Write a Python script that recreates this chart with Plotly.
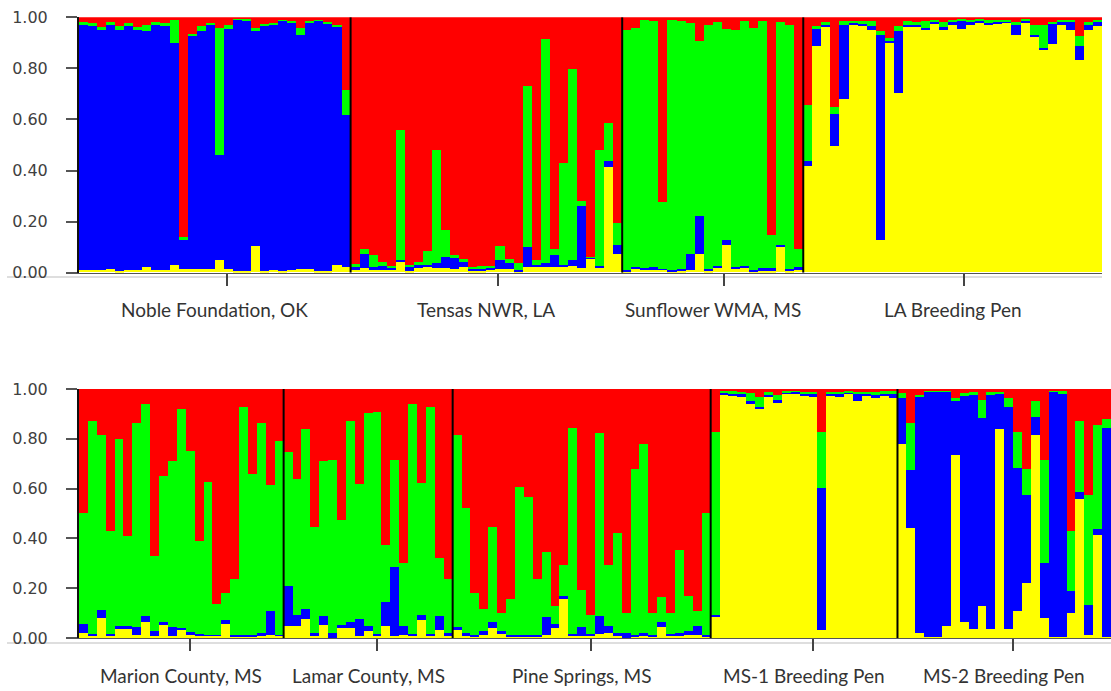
import plotly.graph_objects as go

# Ancestry proportions (Q) per individual, one list per cluster and population.
# Stack order from the bottom: yellow, blue, green, red.

# ---- upper panel ----
noble_yellow = [.01, .01, .01, .015, .005, .01, .01, .023, .01, .01, .03, .015, .013, .013, .013,
                .047, .013, .005, .005, .102, .005, .01, .005, .01, .012, .012, .005, .005, .03, .02]
noble_blue = [.96, .955, .94, .955, .945, .955, .94, .921, .96, .955, .87, .11, .911, .934, .957,
              .411, .94, .985, .98, .842, .96, .96, .98, .965, .919, .965, .98, .97, .93, .597]
noble_green = [.01, .01, .01, .01, .015, .01, .01, .026, .01, .012, .09, .012, .01, .017, .007,
               .5, .017, .002, .007, .013, .007, .005, .005, .008, .026, .007, .005, .007, .01, .098]
noble_red = [.02, .025, .04, .02, .035, .025, .04, .03, .02, .023, .01, .863, .066, .036, .023,
             .042, .03, .008, .008, .043, .028, .025, .01, .017, .043, .016, .01, .018, .03, .285]

tensas_yellow = [.01, .017, .01, .008, .01, .039, .004, .017, .023, .017, .017, .013, .023, .004, .004,
                 .01, .013, .013, .002, .023, .023, .023, .023, .02, .026, .017, .052, .02, .413, .073]
tensas_blue = [.012, .056, .01, .016, .01, .01, .02, .013, .007, .02, .043, .043, .016, .013, .013,
               .01, .037, .023, .008, .078, .005, .013, .046, .01, .021, .242, .008, .005, .022, .035]
tensas_green = [.01, .018, .05, .016, .005, .509, .006, .009, .052, .444, .107, .013, .013, .003, .007,
                .005, .052, .016, .026, .627, .02, .878, .023, .4, .751, .02, .002, .455, .15, .087]
tensas_red = [.968, .909, .93, .96, .975, .442, .97, .961, .918, .519, .833, .931, .948, .98, .976,
              .975, .898, .948, .964, .272, .952, .086, .908, .57, .202, .721, .938, .52, .415, .805]

sunflower_yellow = [.003, .013, .01, .01, .01, .005, .004, .01, .073, .004,
                    .017, .108, .013, .017, .005, .004, .004, .099, .004, .01]
sunflower_blue = [.007, .008, .008, .01, .005, .005, .01, .063, .149, .009,
                  .009, .017, .008, .009, .005, .013, .013, .009, .009, .013]
sunflower_green = [.94, .936, .972, .963, .259, .98, .969, .903, .685, .957,
                   .953, .828, .929, .957, .947, .966, .128, .871, .957, .068]
sunflower_red = [.05, .043, .01, .017, .726, .01, .017, .024, .093, .03,
                 .021, .047, .05, .017, .043, .017, .855, .021, .03, .909]

lapen_yellow = [.415, .888, .96, .496, .679, .97, .965, .95, .125, .898, .702, .96, .96, .948, .975, .952,
                .97, .953, .97, .98, .97, .975, .98, .931, .98, .924, .872, .895, .97, .948, .83, .95, .963]
lapen_blue = [.02, .065, .01, .125, .291, .005, .006, .013, .806, .01, .242, .01, .01, .01, .007, .007,
              .012, .035, .012, .005, .005, .005, .004, .039, .005, .007, .007, .081, .01, .035, .055, .02, .016]
lapen_green = [.222, .01, .01, .028, .013, .01, .012, .02, .013, .01, .02, .013, .01, .026, .005, .02,
               .005, .005, .005, .007, .013, .008, .006, .01, .007, .039, .091, .005, .01, .005, .039, .01, .01]
lapen_red = [.343, .037, .02, .351, .017, .015, .017, .017, .056, .082, .036, .017, .02, .016, .013, .021,
             .013, .007, .013, .008, .012, .012, .01, .02, .008, .03, .03, .019, .01, .012, .076, .02, .011]

# ---- lower panel ----
marion_yellow = [.02, .009, .08, .009, .036, .036, .013, .063, .009, .051, .009, .036,
                 .013, .009, .009, .009, .056, .007, .007, .007, .009, .013, .009]
marion_blue = [.037, .008, .033, .008, .013, .013, .031, .024, .021, .013, .035, .005,
               .013, .008, .005, .005, .015, .005, .005, .005, .011, .094, .005]
marion_green = [.444, .856, .703, .413, .752, .36, .821, .852, .3, .587, .665, .879,
                .725, .371, .614, .122, .109, .225, .917, .646, .845, .508, .779]
marion_red = [.499, .127, .184, .57, .199, .591, .135, .061, .67, .349, .291, .08,
              .249, .612, .372, .864, .82, .763, .071, .342, .135, .385, .207]

lamar_yellow = [.05, .047, .076, .009, .053, .002, .04, .04, .009, .027,
                .009, .05, .009, .013, .009, .071, .009, .031, .009]
lamar_blue = [.158, .047, .04, .011, .034, .018, .013, .023, .067, .022,
              .008, .093, .275, .036, .008, .021, .008, .056, .013]
lamar_green = [.537, .544, .722, .425, .622, .695, .419, .81, .542, .853,
               .892, .231, .431, .254, .922, .532, .912, .234, .215]
lamar_red = [.255, .362, .162, .555, .291, .285, .528, .127, .382, .098,
             .091, .626, .285, .697, .061, .376, .071, .679, .763]

pine_yellow = [.036, .009, .004, .013, .04, .017, .007, .004, .004, .007, .013, .04, .156, .009, .009,
               .007, .017, .02, .009, .002, .007, .009, .007, .044, .009, .009, .013, .013, .007]
pine_blue = [.007, .011, .01, .017, .023, .013, .005, .009, .009, .005, .073, .017, .014, .008, .035,
             .01, .07, .03, .011, .018, .007, .011, .005, .019, .008, .011, .017, .036, .007]
pine_green = [.773, .504, .166, .086, .382, .07, .146, .593, .553, .225, .258, .073, .124, .828, .15,
              .077, .735, .244, .401, .08, .664, .759, .088, .101, .083, .334, .14, .061, .487]
pine_red = [.184, .476, .82, .884, .555, .9, .842, .394, .434, .763, .656, .87, .706, .155, .806,
            .906, .178, .706, .579, .9, .322, .221, .9, .836, .9, .646, .83, .89, .499]

ms1_yellow = [.084, .976, .97, .967, .94, .918, .97, .945, .98, .98, .97,
              .967, .031, .97, .967, .98, .953, .97, .962, .975, .962]
ms1_blue = [.01, .01, .01, .016, .013, .011, .007, .011, .005, .006, .009,
            .013, .571, .009, .013, .005, .029, .009, .017, .008, .02]
ms1_green = [.735, .006, .01, .005, .032, .04, .01, .02, .009, .008, .009,
             .008, .227, .009, .008, .008, .007, .009, .008, .007, .008]
ms1_red = [.171, .008, .01, .012, .015, .031, .013, .024, .006, .006, .012,
           .012, .171, .012, .012, .007, .011, .012, .013, .01, .01]

ms2_yellow = [.779, .441, .02, .003, .003, .049, .735, .063, .036, .127, .036, .838,
              .036, .107, .221, .816, .08, .003, .003, .1, .557, .013, .414, .005]
ms2_blue = [.186, .234, .947, .985, .985, .94, .218, .909, .94, .755, .94, .144,
            .893, .575, .354, .071, .223, .985, .98, .087, .031, .12, .023, .84]
ms2_green = [.019, .19, .009, .007, .007, .006, .009, .013, .01, .074, .01, .007,
             .034, .147, .103, .063, .412, .005, .008, .241, .285, .441, .418, .033]
ms2_red = [.016, .135, .024, .005, .005, .005, .038, .015, .014, .044, .014, .011,
           .037, .171, .322, .05, .285, .007, .009, .572, .127, .426, .145, .122]

top_groups = [
    ("Noble Foundation, OK", noble_yellow, noble_blue, noble_green, noble_red),
    ("Tensas NWR, LA", tensas_yellow, tensas_blue, tensas_green, tensas_red),
    ("Sunflower WMA, MS", sunflower_yellow, sunflower_blue, sunflower_green, sunflower_red),
    ("LA Breeding Pen", lapen_yellow, lapen_blue, lapen_green, lapen_red),
]
bottom_groups = [
    ("Marion County, MS", marion_yellow, marion_blue, marion_green, marion_red),
    ("Lamar County, MS", lamar_yellow, lamar_blue, lamar_green, lamar_red),
    ("Pine Springs, MS", pine_yellow, pine_blue, pine_green, pine_red),
    ("MS-1 Breeding Pen", ms1_yellow, ms1_blue, ms1_green, ms1_red),
    ("MS-2 Breeding Pen", ms2_yellow, ms2_blue, ms2_green, ms2_red),
]

cluster_colors = ["#FFFF00", "#0000FF", "#00FF00", "#FF0000"]
y_ticks = [0, 0.2, 0.4, 0.6, 0.8, 1.0]

W, H = 1111, 691
PLOT_LEFT = 79
panels = [
    # groups, axis suffix, px right, px top, px bottom, tick shift (bars), baseline px
    dict(groups=top_groups, sfx="", right=1102, top=17.3, bottom=272.7, shift=1.3, base=277),
    dict(groups=bottom_groups, sfx="2", right=1111, top=389, bottom=638, shift=1.0, base=643),
]

fig = go.Figure()
shapes, annotations = [], []
axis_font = dict(family="DejaVu Sans", size=16, color="#404040")
label_font = dict(family="Lato", size=19, color="#333333")

for p in panels:
    yellow, blue, green, red = [], [], [], []
    names, centers, bounds = [], [], []
    start = 0
    for name, gy, gb, gg, gr in p["groups"]:
        yellow += gy
        blue += gb
        green += gg
        red += gr
        n = len(gy)
        names.append(name)
        centers.append(start + (n - 1) / 2)
        start += n
        bounds.append(start - 0.5)
    n_total = start
    xs = list(range(n_total))
    xa, ya = "x" + p["sfx"], "y" + p["sfx"]
    for vals, col in zip([yellow, blue, green, red], cluster_colors):
        fig.add_trace(go.Bar(x=xs, y=vals, marker=dict(color=col, line=dict(width=0)),
                             xaxis=xa, yaxis=ya, showlegend=False, hoverinfo="skip"))

    xdom = [PLOT_LEFT / W, p["right"] / W]
    ydom = [1 - p["bottom"] / H, 1 - p["top"] / H]
    fig.layout["xaxis" + p["sfx"]] = dict(
        domain=xdom, range=[-0.5, n_total - 0.5], anchor=ya, automargin=False,
        showgrid=False, zeroline=False, showline=True, linecolor="#555555", linewidth=1,
        tickmode="array", tickvals=[c + p["shift"] for c in centers], ticktext=[""] * len(centers),
        ticks="outside", ticklen=12, tickwidth=1.5, tickcolor="#444444", fixedrange=True,
    )
    fig.layout["yaxis" + p["sfx"]] = dict(
        domain=ydom, range=[0, 1], anchor=xa, automargin=False,
        showgrid=False, zeroline=False, showline=True, linecolor="#111111", linewidth=2,
        tickmode="array", tickvals=y_ticks, tickformat=".2f",
        ticks="outside", ticklen=11, tickwidth=1.5, tickcolor="#555555",
        tickfont=axis_font, ticklabelstandoff=15, fixedrange=True,
    )

    # population separators
    for b in bounds[:-1]:
        shapes.append(dict(type="line", xref=xa, yref=ya, x0=b, x1=b, y0=0, y1=1,
                           line=dict(color="#000000", width=2)))
    # light baseline under the panel
    yb = 1 - p["base"] / H
    shapes.append(dict(type="line", xref="paper", yref="paper", x0=7 / W, x1=p["right"] / W,
                       y0=yb, y1=yb, line=dict(color="#BDBDBD", width=1.2), layer="below"))
    # population names
    ylab = 1 - (p["bottom"] + 37) / H
    for name, c in zip(names, centers):
        annotations.append(dict(x=c, y=ylab, xref=xa, yref="paper", text=name, showarrow=False,
                                xanchor="center", yanchor="middle", font=label_font))

fig.update_layout(
    barmode="stack", bargap=0,
    width=W, height=H, margin=dict(l=0, r=0, t=0, b=0, pad=0, autoexpand=False),
    paper_bgcolor="white", plot_bgcolor="white",
    shapes=shapes, annotations=annotations, showlegend=False,
)

fig.write_html("out.html", config={"displayModeBar": False})
